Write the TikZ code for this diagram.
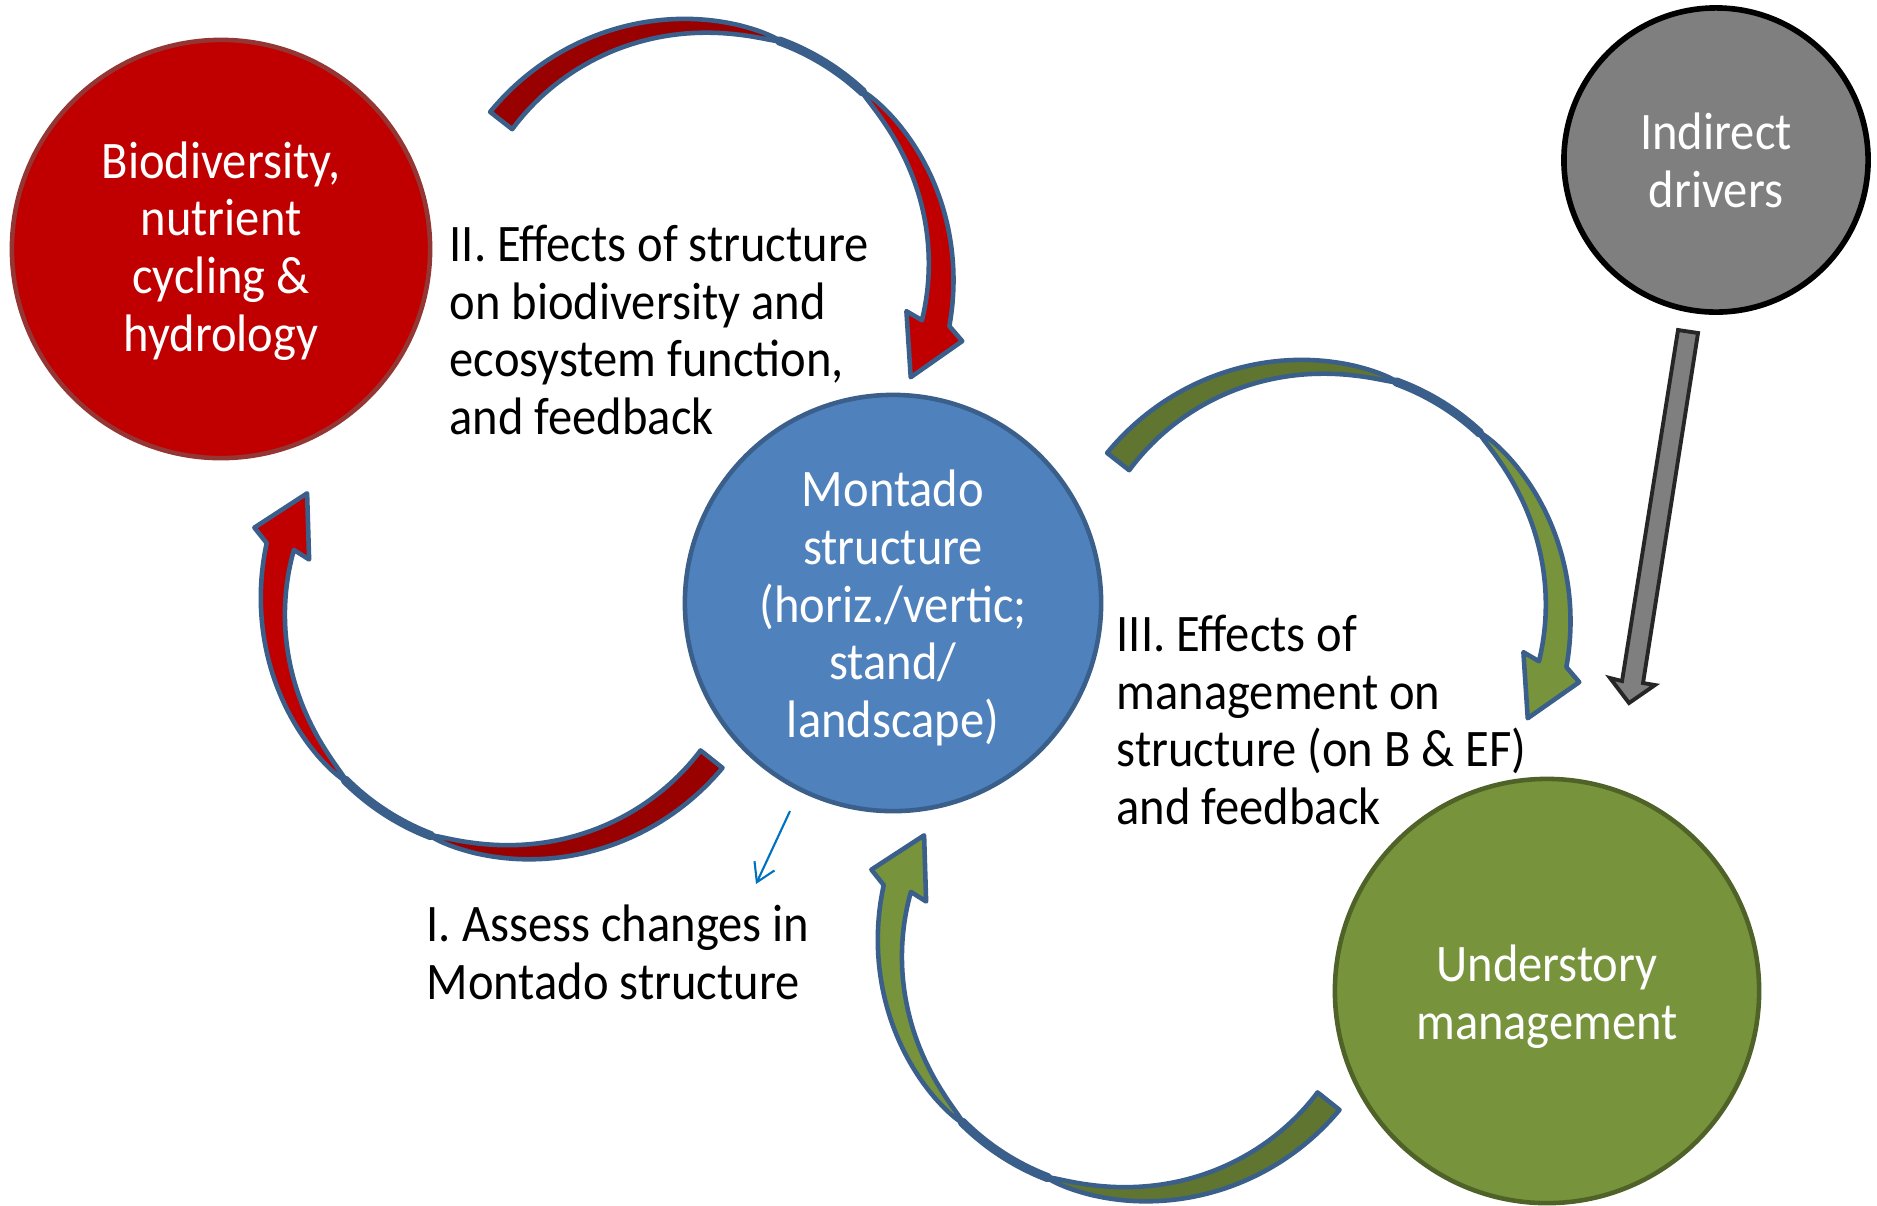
\documentclass[tikz,border=0pt]{standalone}
\usepackage{fontspec}
\setmainfont[FakeStretch=0.92]{Carlito}
\usetikzlibrary{arrows.meta}
\definecolor{rdark}{HTML}{990000}
\definecolor{rbright}{HTML}{C00000}
\definecolor{gdark}{HTML}{60752F}
\definecolor{gbright}{HTML}{77933C}
\definecolor{arrowline}{HTML}{3A5F8B}
\definecolor{bluefill}{HTML}{4F81BD}
\definecolor{redline}{HTML}{943634}
\definecolor{greenline}{HTML}{4F6228}
\definecolor{grayfill}{HTML}{7F7F7F}
\definecolor{darkline}{HTML}{262626}
\definecolor{thinblue}{HTML}{0070C0}
\tikzset{
  ribbon/.style={draw=arrowline, line width=1.3pt, line join=round},
  bubble/.style={circle, inner sep=0pt, line width=1.3pt, text=white, align=center,
     font=\fontsize{15pt}{16.45pt}\selectfont},
  caption/.style={anchor=west, inner sep=0pt, align=left, text=black,
     font=\fontsize{15pt}{16.45pt}\selectfont},
}
% #1 cx, #2 cy, #3 tail angle, #4 pinch start, #5 pinch end, #6 neck angle, #7 dark, #8 bright
\newcommand{\CircArrow}[8]{%
\begin{scope}[shift={(#1,#2)}]
\filldraw[fill=#7, ribbon]
 plot[domain=#3:#4, samples=60, variable=\t]
   ({(246+14*(max((\t-(#4))/((#3)-(#4)),0.001))^0.55)*cos(\t)},
    {-(246+14*(max((\t-(#4))/((#3)-(#4)),0.001))^0.55)*sin(\t)})
 -- plot[domain=#4:#3, samples=60, variable=\t]
   ({(246-14*(max((\t-(#4))/((#3)-(#4)),0.001))^0.55)*cos(\t)},
    {-(246-14*(max((\t-(#4))/((#3)-(#4)),0.001))^0.55)*sin(\t)})
 -- cycle;
\filldraw[fill=#8, ribbon]
 plot[domain=#5:#6, samples=60, variable=\t]
   ({(246+14*(max(((#5)-\t)/((#5)-(#6)),0.001))^0.55)*cos(\t)},
    {-(246+14*(max(((#5)-\t)/((#5)-(#6)),0.001))^0.55)*sin(\t)})
 -- ({276*cos(#6-2.5)},{-276*sin(#6-2.5)})
 -- ({240*cos(#6-14)},{-240*sin(#6-14)})
 -- ({215*cos(#6+1.5)},{-215*sin(#6+1.5)})
 -- plot[domain=#6:#5, samples=60, variable=\t]
   ({(246-14*(max(((#5)-\t)/((#5)-(#6)),0.001))^0.55)*cos(\t)},
    {-(246-14*(max(((#5)-\t)/((#5)-(#6)),0.001))^0.55)*sin(\t)})
 -- cycle;
\draw[arrowline, line width=2.6pt, line cap=round]
 plot[domain=#4:#5, samples=20, variable=\t] ({246*cos(\t)},{-246*sin(\t)});
\end{scope}}
\begin{document}
\begin{tikzpicture}[x=0.01cm, y=-0.01cm]
\fill[white] (0,0) rectangle (1877,1205);
\useasboundingbox (0,0) rectangle (1877,1205);

% curved arrows
\CircArrow{695}{272}{142}{70}{47}{-12}{rdark}{rbright}
\CircArrow{519}{606}{-38.5}{-111}{-135}{-194}{rdark}{rbright}
\CircArrow{1312}{613}{142}{70}{47}{-12}{gdark}{gbright}
\CircArrow{1136}{948}{-38.5}{-111}{-135}{-194}{gdark}{gbright}

% circles
\node[bubble, draw=redline, fill=rbright, minimum size=4.18cm] (bio) at (221,249) {};
\node[bubble, draw=arrowline, fill=bluefill, minimum size=4.16cm] (mont) at (893,603) {};
\node[bubble, draw=black, fill=grayfill, minimum size=3.04cm, line width=1.6pt] (ind) at (1716,160) {};
\node[bubble, draw=greenline, fill=gbright, minimum size=4.24cm] (und) at (1547,991) {};

\node[bubble] (biotext) at (221,251) {Biodiversity,\\nutrient\\cycling \&\\hydrology};
\node[bubble] (monttext) at (893,608) {Montado\\structure\\(horiz./vertic;\\stand/\\landscape)};
\node[bubble] (indtext) at (1716,160) {Indirect\\drivers};
\node[bubble] (undtext) at (1547,997) {Understory\\management};

% gray block arrow
\filldraw[fill=grayfill, draw=darkline, line width=1.1pt, line join=miter]
  (1678,330) -- (1698,333) -- (1643,683) -- (1655,685) -- (1629,703)
  -- (1610,678) -- (1622,681) -- cycle;

% thin blue arrow
\coordinate (bs) at (790,811);
\coordinate (be) at (756,884);
\draw[thinblue, line width=0.6pt, -{Straight Barb[length=1.8mm, width=2.2mm]}] (bs) -- (be);

% captions
\node[caption] (capII) at (449,330)
  {II. Effects of structure\\on biodiversity and\\ecosystem function,\\and feedback};
\node[caption] (capI) at (426,952)
  {I. Assess changes in\\Montado structure};
\node[caption] (capIII) at (1116,720)
  {III. Effects of\\management on\\structure (on B \& EF)\\and feedback};
\end{tikzpicture}
\end{document}
